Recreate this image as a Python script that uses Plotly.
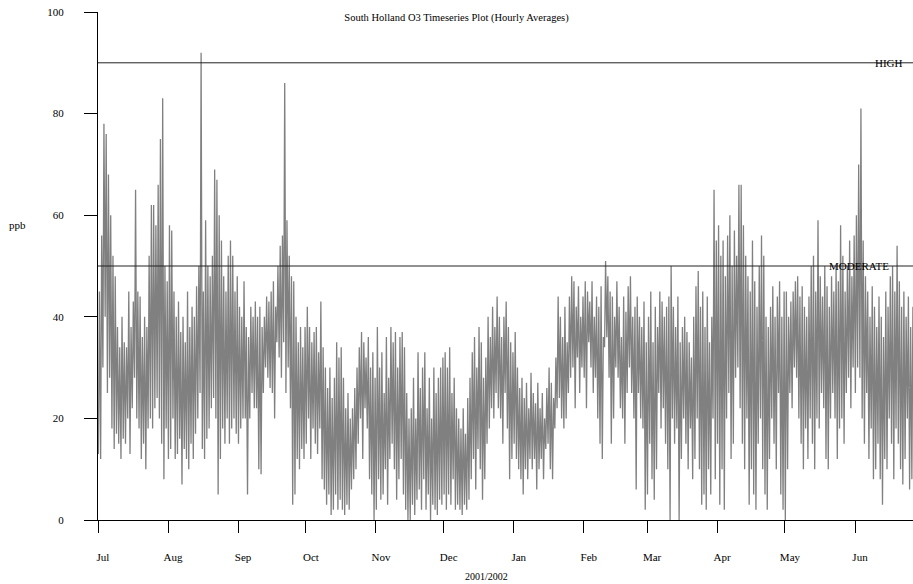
import pandas as pd
import plotly.graph_objects as go

# Daily maximum / minimum hourly O3 (ppb), per month
month_starts = ["2001-07-01", "2001-08-01", "2001-09-01", "2001-10-01", "2001-11-01", "2001-12-01",
                "2002-01-01", "2002-02-01", "2002-03-01", "2002-04-01", "2002-05-01", "2002-06-01"]
month_labels = ["Jul", "Aug", "Sep", "Oct", "Nov", "Dec", "Jan", "Feb", "Mar", "Apr", "May", "Jun"]

jul_max = [45, 56, 78, 76, 68, 60, 52, 48, 38, 34, 40, 35, 34, 45, 38, 43, 65, 45, 44, 36, 40, 38, 52, 62, 62, 58, 66, 75, 83, 50, 47]
jul_min = [13, 12, 30, 40, 25, 28, 18, 14, 17, 15, 12, 16, 15, 20, 13, 22, 28, 20, 18, 12, 15, 10, 18, 20, 18, 22, 24, 20, 15, 8, 18]
aug_max = [58, 57, 45, 40, 43, 37, 40, 35, 45, 38, 42, 40, 46, 50, 92, 45, 59, 50, 48, 52, 69, 67, 60, 55, 48, 45, 52, 55, 52, 45, 48]
aug_min = [12, 14, 20, 12, 13, 16, 7, 14, 12, 10, 15, 12, 17, 20, 25, 14, 12, 16, 18, 22, 24, 20, 5, 12, 18, 15, 20, 15, 18, 20, 17]
sep_max = [42, 40, 47, 38, 36, 42, 40, 43, 40, 42, 38, 40, 44, 43, 45, 47, 42, 50, 54, 56, 86, 59, 52, 48, 47, 40, 35, 38, 34, 38]
sep_min = [15, 18, 20, 20, 5, 20, 25, 22, 22, 10, 9, 25, 30, 28, 26, 25, 20, 35, 32, 28, 35, 25, 30, 22, 3, 5, 12, 10, 14, 12]
oct_max = [42, 38, 35, 37, 38, 33, 43, 34, 30, 26, 30, 24, 28, 35, 32, 34, 28, 22, 25, 20, 22, 26, 30, 34, 37, 35, 32, 36, 30, 33, 28]
oct_min = [15, 20, 12, 18, 15, 13, 18, 8, 6, 3, 5, 1, 2, 5, 2, 4, 2, 1, 3, 2, 6, 8, 10, 15, 20, 12, 22, 18, 8, 5, 0]
nov_max = [38, 30, 33, 25, 36, 28, 38, 35, 37, 30, 36, 37, 34, 25, 20, 22, 28, 20, 33, 26, 30, 33, 22, 28, 20, 30, 25, 28, 30, 32]
nov_min = [2, 8, 4, 5, 10, 3, 12, 15, 10, 4, 8, 12, 5, 2, 0, 0, 3, 1, 4, 6, 2, 8, 2, 5, 0, 3, 2, 1, 4, 3]
dec_max = [33, 30, 34, 25, 28, 22, 20, 18, 22, 17, 24, 28, 33, 36, 30, 38, 35, 28, 32, 40, 36, 42, 38, 44, 40, 36, 40, 43, 38, 35, 33]
dec_min = [5, 2, 5, 3, 8, 2, 3, 2, 1, 3, 2, 4, 8, 12, 6, 14, 10, 4, 8, 15, 18, 22, 20, 25, 22, 20, 15, 25, 18, 8, 12]
jan_max = [37, 30, 26, 28, 24, 27, 22, 29, 25, 23, 27, 22, 25, 20, 26, 30, 27, 24, 32, 44, 40, 36, 42, 35, 44, 48, 47, 42, 46, 40, 44]
jan_min = [15, 12, 10, 8, 5, 10, 8, 12, 10, 12, 6, 10, 12, 8, 14, 15, 10, 8, 18, 22, 24, 20, 18, 20, 25, 28, 30, 22, 32, 25, 30]
feb_max = [47, 45, 43, 47, 40, 44, 42, 46, 36, 51, 48, 45, 44, 40, 47, 42, 36, 44, 41, 46, 48, 40, 42, 44, 40, 38, 43, 35]
feb_min = [28, 22, 35, 30, 25, 28, 20, 15, 12, 34, 36, 28, 15, 20, 30, 28, 22, 20, 15, 25, 30, 25, 20, 6, 25, 20, 18, 2]
mar_max = [40, 45, 35, 42, 38, 45, 43, 40, 42, 44, 50, 42, 38, 44, 35, 38, 40, 37, 35, 32, 40, 46, 49, 42, 45, 38, 44, 35, 40, 65, 55]
mar_min = [5, 15, 8, 4, 10, 25, 18, 22, 15, 10, 0, 20, 15, 18, 0, 12, 20, 15, 10, 18, 8, 12, 20, 10, 3, 5, 2, 10, 5, 20, 8]
apr_max = [58, 52, 55, 48, 56, 60, 50, 57, 52, 66, 66, 58, 52, 48, 45, 55, 47, 42, 50, 56, 52, 40, 38, 42, 46, 40, 44, 47, 40, 45]
apr_min = [15, 3, 10, 2, 20, 25, 12, 15, 28, 30, 22, 15, 10, 20, 3, 10, 5, 2, 15, 20, 10, 5, 2, 12, 20, 15, 10, 25, 5, 2]
may_max = [45, 40, 43, 45, 47, 48, 44, 46, 42, 40, 44, 50, 52, 45, 59, 48, 44, 50, 46, 42, 48, 45, 50, 47, 58, 52, 45, 50, 55, 48, 56]
may_min = [0, 10, 25, 22, 30, 28, 20, 15, 10, 18, 12, 20, 15, 10, 20, 18, 25, 22, 12, 10, 20, 25, 20, 12, 18, 20, 15, 25, 28, 22, 30]
jun_max = [60, 70, 81, 55, 48, 45, 40, 46, 42, 38, 44, 40, 36, 45, 42, 48, 50, 45, 54, 47, 42, 45, 40, 44, 38, 42, 40]
jun_min = [25, 30, 28, 20, 15, 25, 12, 18, 8, 10, 15, 8, 3, 12, 10, 20, 15, 8, 18, 15, 10, 7, 12, 20, 6, 8, 15]

daily_max = [jul_max, aug_max, sep_max, oct_max, nov_max, dec_max,
             jan_max, feb_max, mar_max, apr_max, may_max, jun_max]
daily_min = [jul_min, aug_min, sep_min, oct_min, nov_min, dec_min,
             jan_min, feb_min, mar_min, apr_min, may_min, jun_min]

high_level = 90
moderate_level = 50

times, values = [], []
for start, mx, mn in zip(month_starts, daily_max, daily_min):
    base = pd.Timestamp(start)
    for i, (hi, lo) in enumerate(zip(mx, mn)):
        day = base + pd.Timedelta(days=i)
        times.append(day + pd.Timedelta(hours=4))
        values.append(lo)
        times.append(day + pd.Timedelta(hours=15))
        values.append(hi)

font_family = "Liberation Serif, Times New Roman, serif"

fig = go.Figure()
fig.add_trace(go.Scatter(x=times, y=values, mode="lines",
                         line=dict(color="#808080", width=1.3), hoverinfo="skip",
                         showlegend=False))

for lvl in (high_level, moderate_level):
    fig.add_shape(type="line", xref="paper", x0=0, x1=1, yref="y", y0=lvl, y1=lvl,
                  line=dict(color="#222222", width=1))

fig.add_annotation(text="HIGH", xref="paper", x=0.970, yref="y", y=high_level,
                   showarrow=False, xanchor="center", yanchor="middle",
                   font=dict(family=font_family, size=11, color="black"))
fig.add_annotation(text="MODERATE", xref="paper", x=0.934, yref="y", y=moderate_level,
                   showarrow=False, xanchor="center", yanchor="middle",
                   font=dict(family=font_family, size=11, color="black"))
fig.add_annotation(text="ppb", xref="paper", x=-0.099, yref="y", y=58,
                   showarrow=False, xanchor="center", yanchor="middle",
                   font=dict(family=font_family, size=11, color="black"))
fig.add_annotation(text="2001/2002", xref="paper", x=0.477, yref="paper", y=-0.112,
                   showarrow=False, xanchor="center", yanchor="middle",
                   font=dict(family=font_family, size=10, color="black"))

fig.update_layout(
    width=913, height=584,
    margin=dict(l=98, r=0, t=12, b=64),
    paper_bgcolor="white", plot_bgcolor="white",
    font=dict(family=font_family, size=11, color="black"),
    title=dict(text="South Holland O3 Timeseries Plot (Hourly Averages)",
               x=0.5, xref="container", xanchor="center",
               y=1 - 17 / 584, yref="container", yanchor="middle",
               font=dict(family=font_family, size=10.5, color="black")),
    showlegend=False,
)
fig.update_xaxes(type="date",
                 range=["2001-07-01", "2002-06-26 16:00"],
                 tickvals=month_starts, ticktext=month_labels,
                 ticks="outside", ticklen=12, tickcolor="black", tickwidth=1,
                 showline=True, linecolor="black", linewidth=1,
                 showgrid=False, zeroline=False,
                 ticklabelshift=5, ticklabelstandoff=15,
                 tickfont=dict(family=font_family, size=11, color="black"))
fig.update_yaxes(range=[0, 100], tickvals=[0, 20, 40, 60, 80, 100],
                 ticks="outside", ticklen=13, tickcolor="black", tickwidth=1,
                 showline=True, linecolor="black", linewidth=1,
                 showgrid=False, zeroline=False,
                 ticklabelstandoff=18,
                 tickfont=dict(family=font_family, size=11, color="black"))

fig.write_html("out.html",
               config={"displayModeBar": False},
               post_script="document.body.style.margin='0';document.body.style.overflow='hidden';")
